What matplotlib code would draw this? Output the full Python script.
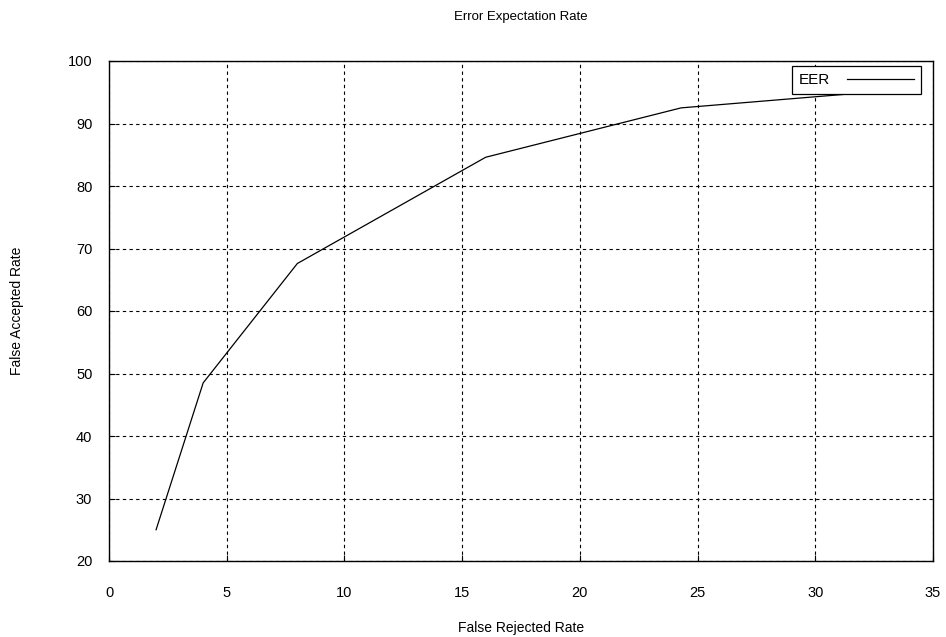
import matplotlib
matplotlib.use('Agg')
import matplotlib.pyplot as plt

# false rejected rate vs false accepted rate
frr = [2, 4, 8, 16, 24.3, 32]
far = [25, 48.5, 67.6, 84.6, 92.5, 94.9]

xticks = [0, 5, 10, 15, 20, 25, 30, 35]
yticks = [20, 30, 40, 50, 60, 70, 80, 90, 100]

plt.rcParams['font.family'] = ['Liberation Sans', 'DejaVu Sans']

fig = plt.figure(figsize=(9.46, 6.37), dpi=100)
ax = fig.add_axes([109 / 946, 1 - 561 / 637, 824 / 946, 500 / 637])

ax.plot(frr, far, color='black', linewidth=0.9, label='EER')

ax.set_xlim(0, 35)
ax.set_ylim(20, 100)
ax.set_xticks(xticks)
ax.set_yticks(yticks)
ax.tick_params(direction='in', length=4, width=0.8, labelsize=10.5, colors='black')
ax.tick_params(axis='x', pad=18)
ax.tick_params(axis='y', pad=12)
ax.grid(True, color='black', linestyle=(0, (3, 3)), linewidth=0.8)
for s in ax.spines.values():
    s.set_linewidth(1.0)

cx = (109 + 933) / 2 / 946
fig.text(cx, 1 - 17 / 637, 'Error Expectation Rate',
         ha='center', va='center', fontsize=9.5)
fig.text(cx, 1 - 628 / 637, 'False Rejected Rate',
         ha='center', va='center', fontsize=10)
fig.text(17 / 946, 1 - 311 / 637, 'False Accepted Rate',
         ha='center', va='center', rotation=90, fontsize=10)

leg = ax.legend(loc='upper right', markerfirst=False, fancybox=False,
                framealpha=1, edgecolor='black', fontsize=11, handlelength=4.4,
                borderpad=0.45, handletextpad=1.1, borderaxespad=0)
leg.set_bbox_to_anchor((921 / 946, 1 - 66 / 637), transform=fig.transFigure)
leg.get_frame().set_linewidth(0.9)

fig.savefig('out.png', dpi=100)
